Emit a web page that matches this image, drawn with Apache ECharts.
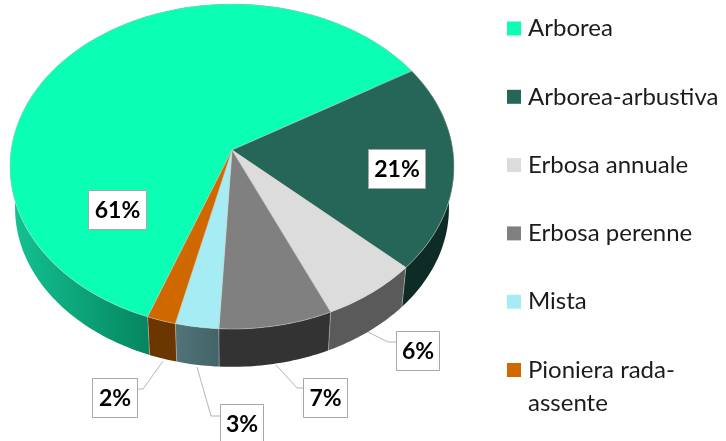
<!DOCTYPE html>
<html><head><meta charset="utf-8">
<style>html,body{margin:0;padding:0;background:#fff}#c{width:726px;height:441px}</style>
<script src="https://cdn.jsdelivr.net/npm/echarts@6/dist/echarts.min.js"></script>
</head><body><div id="c"></div>
<script>
const categories = ['Arborea','Arborea-arbustiva','Erbosa annuale','Erbosa perenne','Mista','Pioniera rada-\nassente'];
const values = [60.75,20.55,6.45,7.49,2.86,1.9];
const topColors = ['#0affb4','#256658','#dcdcdc','#808080','#a5ecf5','#d06800'];
const wallColors = ['#0a9a70','#0f2b25','#5a5a5a','#333333','#4b6d72','#6b3600'];

// layout of the tilted pie
const geo = {cx:232,cy:150,A:220.9,B:160.8,k:0.1016,s:0.977,baseY:192,start:200.2};
// label boxes [x,y,w,h] and leader lines, per slice
const boxes = [[88,190,58,39],[368,149,57,39],[396,331,43,39],[303,378,44,39],[220,404,43,39],[92,378,45,39]];
const leaders = [null,null,[[396,342],[388,342],[368,332]],[[303,388],[297,388],[276,365]],[[220,416],[211,416],[197,367]],[[137,389],[143,389],[163,361]]];

const total = values.reduce((a,b)=>a+b,0);
function topPt(deg){
  const t=deg*Math.PI/180,u=Math.sin(t),v=-Math.cos(t),w=1-geo.k*v;
  return [geo.cx+geo.A*u/w,geo.cy+geo.B*v/w];
}
function basePt(deg){
  const p=topPt(deg);
  return [geo.cx+geo.s*(p[0]-geo.cx),geo.baseY+geo.s*(p[1]-geo.cy)];
}
function sliceRange(i){
  let a=geo.start;
  for(let j=0;j<i;j++)a+=values[j]/total*360;
  return [a,a+values[i]/total*360];
}
function arc(fn,a,b){
  const r=[];
  for(let d=a;d<b;d+=1)r.push(fn(d));
  r.push(fn(b));
  return r;
}
function wallFill(i){
  if(i===0)return new echarts.graphic.LinearGradient(13,0,150,0,[{offset:0,color:'#12c292'},{offset:1,color:'#06855f'}],true);
  if(i===4)return new echarts.graphic.LinearGradient(175,0,217,0,[{offset:0,color:'#527478'},{offset:1,color:'#43656a'}],true);
  return wallColors[i];
}
const rimLine='rgba(205,205,205,0.6)';
function renderSlice(i){
  const [a,b]=sliceRange(i);
  const T=arc(topPt,a,b),Bt=arc(basePt,a,b);
  const kids=[];
  kids.push({type:'polygon',z2:1,shape:{points:T.concat(Bt.slice().reverse())},style:{fill:wallFill(i),stroke:null}});
  kids.push({type:'polyline',z2:2,shape:{points:[topPt(a),basePt(a)]},style:{stroke:rimLine,lineWidth:0.8,fill:null}});
  kids.push({type:'polygon',z2:5,shape:{points:[[geo.cx,geo.cy]].concat(T)},style:{fill:topColors[i],stroke:rimLine,lineWidth:0.8}});
  if(leaders[i])kids.push({type:'polyline',z2:6,shape:{points:leaders[i]},style:{stroke:'#b5b5b5',lineWidth:1,fill:null}});
  const bx=boxes[i];
  kids.push({type:'rect',z2:7,shape:{x:bx[0]+.5,y:bx[1]+.5,width:bx[2],height:bx[3]},style:{fill:'#fff',stroke:'#a6a6a6',lineWidth:1}});
  kids.push({type:'text',z2:8,style:{text:Math.round(values[i])+'%',x:bx[0]+bx[2]/2+.5,y:bx[1]+bx[3]/2+1,align:'center',verticalAlign:'middle',fill:'#000',font:'bold 23px Lato'}});
  return {type:'group',children:kids};
}
const series = categories.map((name,i)=>({
  type:'custom',name,coordinateSystem:'none',silent:true,animation:false,
  itemStyle:{color:topColors[i]},
  data:[[values[i]]],
  renderItem:()=>renderSlice(i)
}));
const legendBase = {orient:'vertical',left:507,icon:'rect',itemWidth:14,itemHeight:14,selectedMode:false,padding:0};
const chart = echarts.init(document.getElementById('c'),null,{renderer:'canvas'});
chart.setOption({
  animation:false,
  backgroundColor:'#fff',
  legend:[
    Object.assign({},legendBase,{
      top:15,itemGap:41.3,
      textStyle:{fontFamily:'Lato',fontSize:24,color:'#1c1c1c',lineHeight:27,padding:[0,0,0,2]},
      data:categories.slice(0,5).map((name,i)=>({name,itemStyle:{color:topColors[i]}}))
    }),
    Object.assign({},legendBase,{
      top:320.5,
      // a leading blank line keeps the marker level with the first text line
      formatter:n=>'\n'+n,
      textStyle:{fontFamily:'Lato',fontSize:24,color:'#1c1c1c',lineHeight:33,padding:[0,0,0,2]},
      data:[{name:categories[5],itemStyle:{color:topColors[5]}}]
    })
  ],
  series
});
</script></body></html>
